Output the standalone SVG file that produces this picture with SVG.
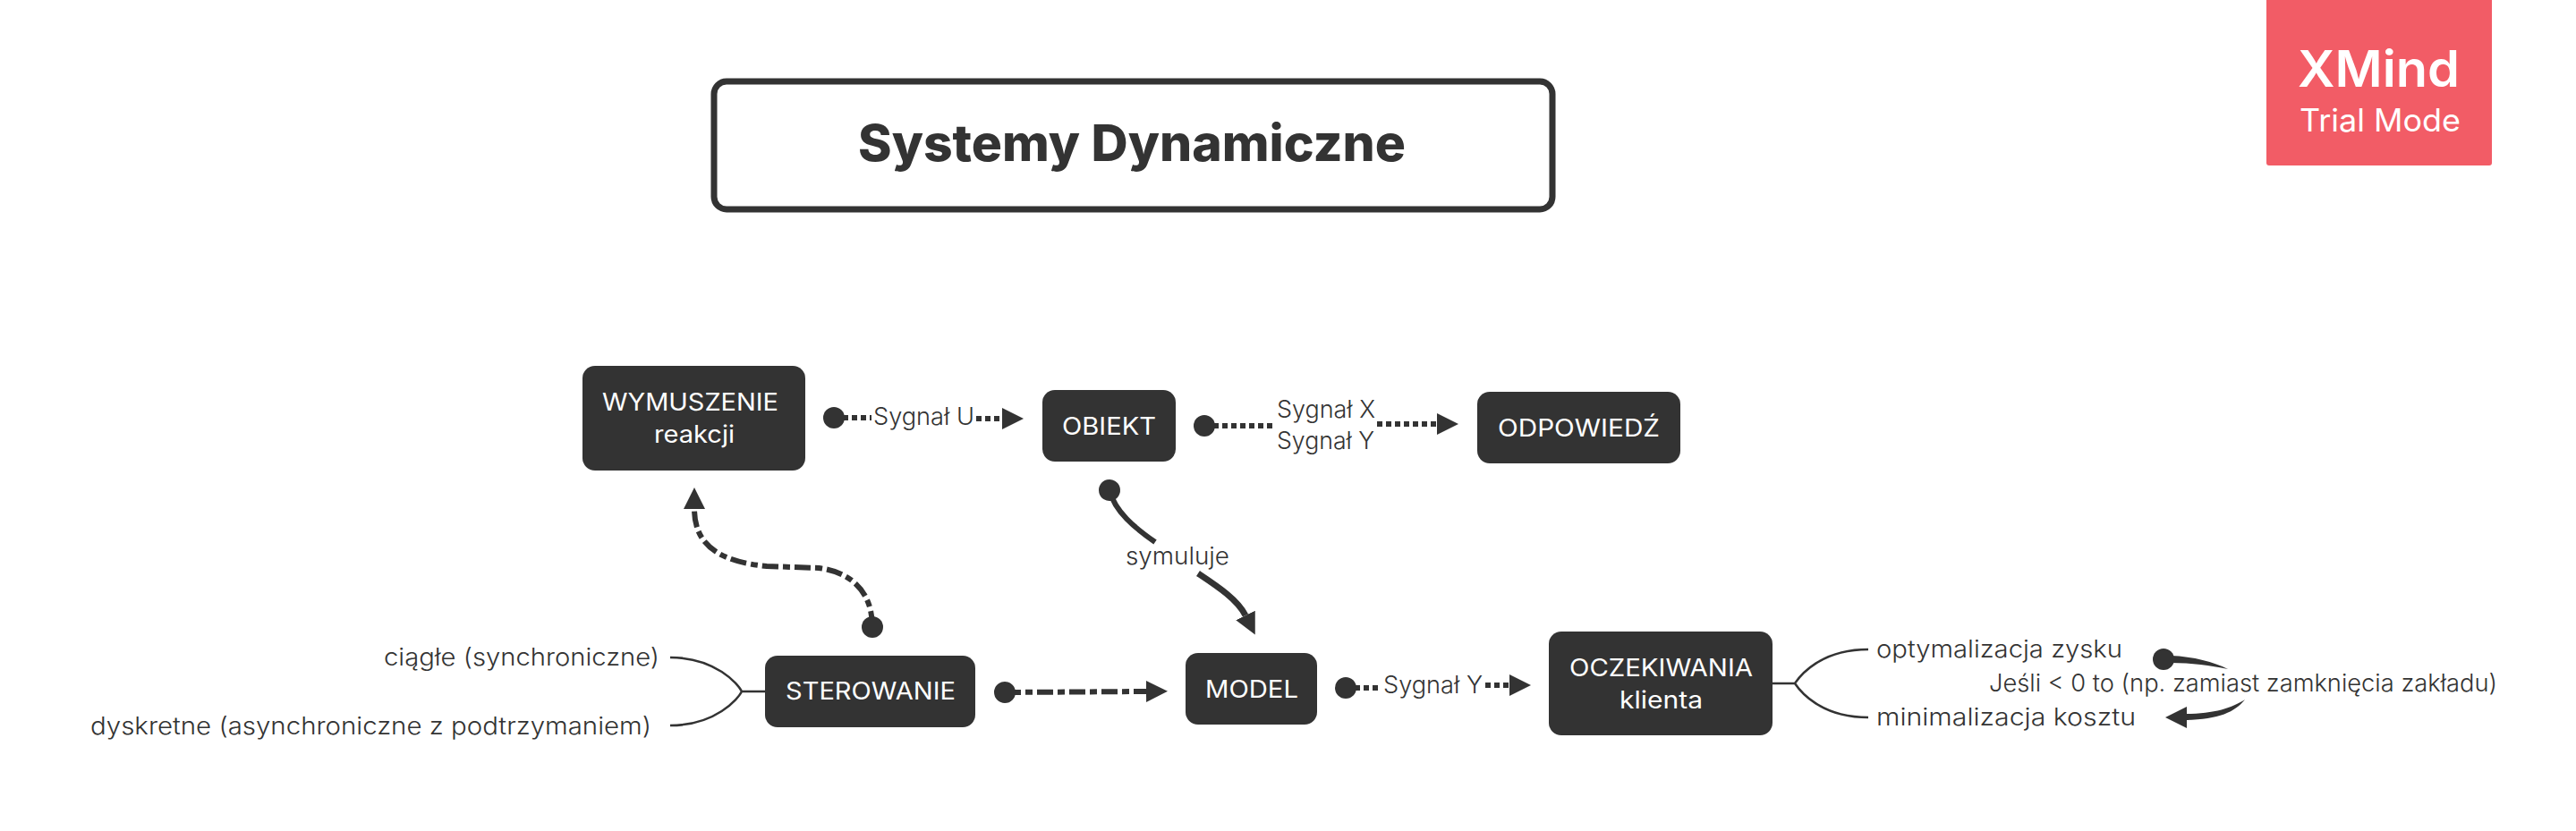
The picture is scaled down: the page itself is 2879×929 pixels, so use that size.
<svg xmlns="http://www.w3.org/2000/svg" width="2879" height="929" viewBox="0 0 2879 929">
<style>
text{font-family:Inter,"Noto Sans","Liberation Sans",sans-serif;fill:#333}
.n{fill:#333;stroke:none}
.w{fill:#fff;font-size:27px;font-weight:400;text-anchor:start}
.t{font-size:27px;font-weight:300;text-anchor:start}
.c{fill:none;stroke:#333;stroke-width:6}
.dot{stroke-dasharray:6 4}
.dd{stroke-dasharray:18 5 8 5}
.b{fill:none;stroke:#333;stroke-width:2.5}
.f{fill:#333;stroke:none}
</style>
<defs>
<marker id="s" markerUnits="userSpaceOnUse" markerWidth="26" markerHeight="26" refX="13" refY="13" orient="auto"><circle cx="13" cy="13" r="12" fill="#333"/></marker>
<marker id="e" markerUnits="userSpaceOnUse" markerWidth="26" markerHeight="26" refX="0" refY="13" orient="auto"><path d="M0 1L24 13L0 25Z" fill="#333"/></marker>
</defs>
<rect width="2879" height="929" fill="#fff"/>
<g id="connectors">
<path class="c dot" marker-start="url(#s)" d="M932 467H974"/>
<path class="c dot" marker-end="url(#e)" d="M1091 468H1120"/>
<path class="c dot" marker-start="url(#s)" d="M1346 476H1426"/>
<path class="c dot" marker-end="url(#e)" d="M1539 474H1606"/>
<path class="c" marker-start="url(#s)" d="M1240 548C1246 572 1268 590 1291 606"/>
<path class="c" style="stroke-width:7" marker-end="url(#e)" d="M1339 641C1360 655 1383 670 1392 688"/>
<path class="c dd" marker-start="url(#s)" marker-end="url(#e)" d="M975 701C975 665 955 640 915 635L857 633C805 628 776 610 776 569"/>
<path class="c dd" marker-start="url(#s)" marker-end="url(#e)" d="M1123 774L1281 773"/>
<path class="c dot" marker-start="url(#s)" d="M1504 769H1544"/>
<path class="c dot" marker-end="url(#e)" d="M1660 766H1687"/>
<circle class="f" cx="2418" cy="737" r="12"/>
<path class="f" d="M2426 733C2452 734 2474 740 2490 748C2470 744 2450 741 2426 741Z"/>
<path class="f" d="M2509 782C2495 791 2475 798 2443 798L2443 805C2480 804 2498 796 2509 782Z"/>
<path class="c" marker-end="url(#e)" d="M2446 802H2444"/>
<path class="b" d="M855 773H829M749 735C800 735 825 765 829 773C825 781 800 811 749 811"/>
<path class="b" d="M1981 764H2006M2088 726C2035 726 2012 755 2006 764C2012 773 2035 802 2088 802"/>
</g>
<g id="title"><rect x="798" y="91" width="937" height="143" rx="14" fill="#fff" stroke="#333" stroke-width="7"/><text x="959" y="180" font-size="56" font-weight="800" textLength="612" lengthAdjust="spacingAndGlyphs">Systemy Dynamiczne</text></g>
<g id="wymuszenie"><rect class="n" x="651" y="409" width="249" height="117" rx="14"/><text class="w" x="673" y="459" textLength="197" lengthAdjust="spacingAndGlyphs">WYMUSZENIE</text><text class="w" x="731" y="495" textLength="90" lengthAdjust="spacingAndGlyphs">reakcji</text></g>
<g id="obiekt"><rect class="n" x="1165" y="436" width="149" height="80" rx="14"/><text class="w" x="1187" y="486" textLength="105" lengthAdjust="spacingAndGlyphs">OBIEKT</text></g>
<g id="odpowiedz"><rect class="n" x="1651" y="438" width="227" height="80" rx="14"/><text class="w" x="1674" y="488" textLength="181" lengthAdjust="spacingAndGlyphs">ODPOWIEDŹ</text></g>
<g id="sterowanie"><rect class="n" x="855" y="733" width="235" height="80" rx="14"/><text class="w" x="878" y="782" textLength="190" lengthAdjust="spacingAndGlyphs">STEROWANIE</text></g>
<g id="model"><rect class="n" x="1325" y="730" width="147" height="80" rx="14"/><text class="w" x="1347" y="780" textLength="104" lengthAdjust="spacingAndGlyphs">MODEL</text></g>
<g id="oczekiwania"><rect class="n" x="1731" y="706" width="250" height="116" rx="14"/><text class="w" x="1754" y="756" textLength="205" lengthAdjust="spacingAndGlyphs">OCZEKIWANIA</text><text class="w" x="1810" y="792" textLength="93" lengthAdjust="spacingAndGlyphs">klienta</text></g>
<g id="labels">
<text class="t" x="976" y="475" textLength="113" lengthAdjust="spacingAndGlyphs">Sygnał U</text>
<text class="t" x="1427" y="467" textLength="110" lengthAdjust="spacingAndGlyphs">Sygnał X</text>
<text class="t" x="1427" y="502" textLength="109" lengthAdjust="spacingAndGlyphs">Sygnał Y</text>
<text class="t" x="1258" y="631" textLength="116" lengthAdjust="spacingAndGlyphs">symuluje</text>
<text class="t" x="1546" y="775" textLength="111" lengthAdjust="spacingAndGlyphs">Sygnał Y</text>
<text class="t" x="2223" y="773" textLength="568" lengthAdjust="spacingAndGlyphs">Jeśli &lt; 0 to (np. zamiast zamknięcia zakładu)</text>
</g>
<g id="ciagle"><text class="t" x="429" y="744" textLength="308" lengthAdjust="spacingAndGlyphs">ciągłe (synchroniczne)</text></g>
<g id="dyskretne"><text class="t" x="101" y="821" textLength="627" lengthAdjust="spacingAndGlyphs">dyskretne (asynchroniczne z podtrzymaniem)</text></g>
<g id="optymalizacja"><text class="t" x="2097" y="735" textLength="275" lengthAdjust="spacingAndGlyphs">optymalizacja zysku</text></g>
<g id="minimalizacja"><text class="t" x="2097" y="811" textLength="290" lengthAdjust="spacingAndGlyphs">minimalizacja kosztu</text></g>
<g id="badge"><rect x="2533" y="-5" width="252" height="190" rx="3" fill="#f25c66"/><text x="2568" y="97" font-size="56" font-weight="600" style="fill:#fff" textLength="181" lengthAdjust="spacingAndGlyphs">XMind</text><text x="2570" y="147" font-size="35" font-weight="400" style="fill:#fff" textLength="180" lengthAdjust="spacingAndGlyphs">Trial Mode</text></g>
</svg>
